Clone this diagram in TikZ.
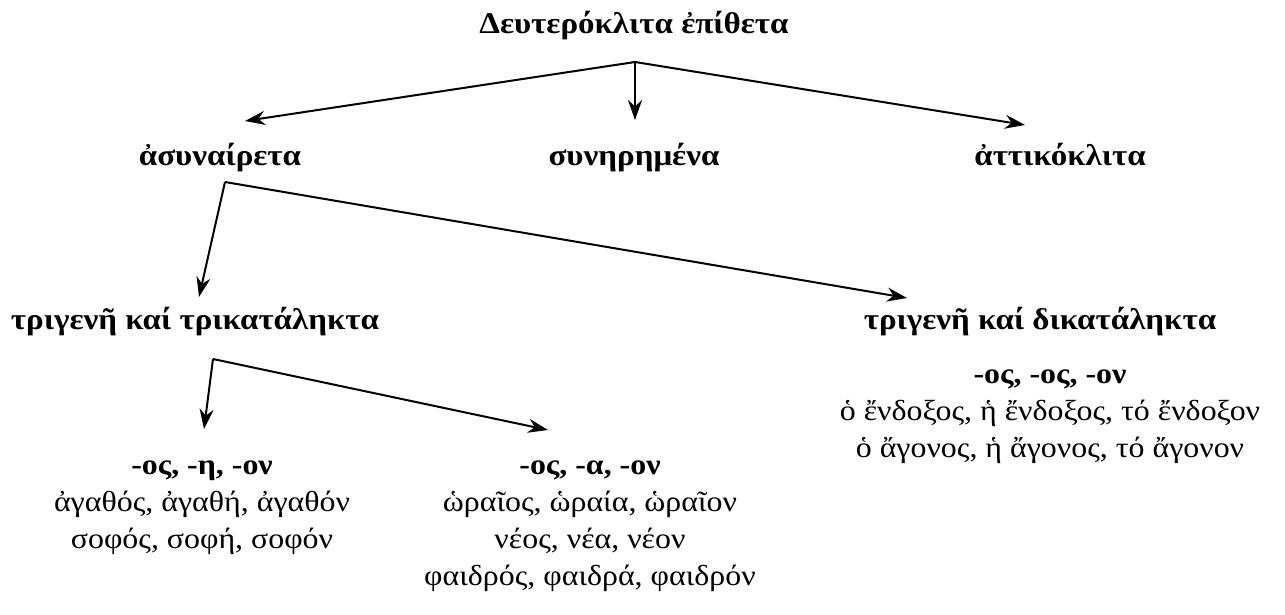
\documentclass[tikz,border=0pt]{standalone}
\usepackage{fontspec}
\setmainfont{Liberation Serif}[FakeStretch=1.1]
\usepackage{tikz}
\usetikzlibrary{arrows.meta,positioning}

\begin{document}
\begin{tikzpicture}[
  x=0.5pt, y=-0.5pt,
  every node/.style={inner sep=0pt, anchor=base},
  head/.style={font=\fontsize{15}{18}\selectfont\bfseries},
  forms/.style={align=center, font=\fontsize{14.5}{18.5}\selectfont},
  arrow/.style={-{Stealth[length=10pt,width=7pt]}, line width=1pt}
]
\useasboundingbox (0,0) rectangle (1285,615);

% Root
\node[head] (root) at (634,34) {Δευτερόκλιτα ἐπίθετα};

% Second level
\node[head] (asyn) at (220,165) {ἀσυναίρετα};
\node[head] (syn) at (634,165) {συνηρημένα};
\node[head] (att) at (1060,165) {ἀττικόκλιτα};

% Third level
\node[head] (tri3) at (195,329) {τριγενῆ καί τρικατάληκτα};
\node[head] (tri2) at (1040,329) {τριγενῆ καί δικατάληκτα};

% Endings with examples (base = last line)
\node[forms] (oseon) at (202,548) {\textbf{-ος, -η, -ον}\\ ἀγαθός, ἀγαθή, ἀγαθόν\\ σοφός, σοφή, σοφόν};
\node[forms] (osaon) at (590,585) {\textbf{-ος, -α, -ον}\\ ὡραῖος, ὡραία, ὡραῖον\\ νέος, νέα, νέον\\ φαιδρός, φαιδρά, φαιδρόν};
\node[forms] (ososon) at (1050,457) {\textbf{-ος, -ος, -ον}\\ ὁ ἔνδοξος, ἡ ἔνδοξος, τό ἔνδοξον\\ ὁ ἄγονος, ἡ ἄγονος, τό ἄγονον};

% Fork points
\coordinate (rootfork) at ([shift={(1,28)}]root.base);
\coordinate (asynfork) at ([shift={(5,17)}]asyn.base);
\coordinate (trifork) at ([shift={(18,30)}]tri3.base);

% Arrows
\draw[arrow] (rootfork) -- ([shift={(25,-44)}]asyn.base);
\draw[arrow] (rootfork) -- ([shift={(1,-45)}]syn.base);
\draw[arrow] (rootfork) -- ([shift={(-35,-40)}]att.base);
\draw[arrow] (asynfork) -- ([shift={(4,-32)}]tri3.base);
\draw[arrow] (asynfork) -- ([shift={(-133,-31)}]tri2.base);
\draw[arrow] (trifork) -- ([shift={(2,-119)}]oseon.base);
\draw[arrow] (trifork) -- ([shift={(-42,-155)}]osaon.base);

\end{tikzpicture}
\end{document}
